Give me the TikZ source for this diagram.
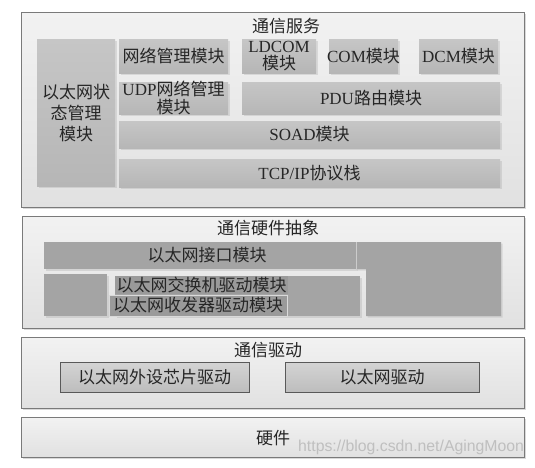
\documentclass[tikz,border=0pt]{standalone}
\usepackage{fontspec}
\setmainfont{Noto Sans CJK SC}
\newfontfamily\lat{Liberation Serif}
\newfontfamily\wmfont{Liberation Sans}
\usetikzlibrary{shadows}

\definecolor{paneltop}{HTML}{F2F2F2}
\definecolor{panelbot}{HTML}{E1E1E1}
\definecolor{panelline}{HTML}{7A7A7A}
\definecolor{modtop}{HTML}{C6C6C6}
\definecolor{modbot}{HTML}{B6B6B6}
\definecolor{hwabfill}{HTML}{A4A4A4}
\definecolor{hwabtext}{HTML}{9A9A9A}
\definecolor{drvtop}{HTML}{D4D4D4}
\definecolor{drvbot}{HTML}{BDBDBD}

\begin{document}
\begin{tikzpicture}[x=1pt, y=-1pt,
    every node/.style={font=\fontsize{17}{17.5}\selectfont, inner sep=0pt, align=center, text=black!85},
    panel/.style={draw=panelline, line width=0.8pt, top color=paneltop, bottom color=panelbot,
        drop shadow={shadow xshift=1.5pt, shadow yshift=-1.5pt, opacity=0.25, fill=black!60}},
    modbox/.style={top color=modtop, bottom color=modbot,
        drop shadow={shadow xshift=1.5pt, shadow yshift=-1.5pt, opacity=0.2, fill=black!50}},
    hwabbox/.style={fill=hwabfill,
        drop shadow={shadow xshift=1.5pt, shadow yshift=-1.5pt, opacity=0.2, fill=black!50}},
    drvbox/.style={draw=black!65, line width=0.8pt, top color=drvtop, bottom color=drvbot}]

    \useasboundingbox (0,0) rectangle (535,467);

    \path[panel] (21,12) rectangle (524,207);
    \node (svc) at (286,26) {通信服务};

    \path[modbox] (37,39) rectangle (115,186);
    \path[modbox] (119,39) rectangle (228,73);
    \path[modbox] (119,82) rectangle (228,114);
    \path[modbox] (242,39) rectangle (316,73);
    \path[modbox] (329,39) rectangle (398,73);
    \path[modbox] (419,39) rectangle (498,73);
    \path[modbox] (242,82) rectangle (500,114);
    \path[modbox] (119,121) rectangle (500,148);
    \path[modbox] (119,159) rectangle (500,187);

    \node[font=\fontsize{17}{21}\selectfont] (ethsm) at (76,113) {以太网状\\态管理\\模块};
    \node (netmgr) at (173.5,56) {网络管理模块};
    \node (udpmgr) at (173.5,98) {{\lat UDP}网络管理\\模块};
    \node (ldcom) at (279,56) {{\lat LDCOM}\\模块};
    \node (com) at (363.5,56) {{\lat COM}模块};
    \node (dcm) at (458.5,56) {{\lat DCM}模块};
    \node (pdur) at (371,98) {{\lat PDU}路由模块};
    \node (soad) at (309.5,134.5) {{\lat SOAD}模块};
    \node (tcpip) at (309.5,173) {{\lat TCP/IP}协议栈};

    \path[panel] (22,216) rectangle (524,328);
    \node (hwab) at (268,228) {通信硬件抽象};

    \path[hwabbox] (44,242) rectangle (356,269);
    \path[hwabbox] (356,242) -- (501,242) -- (501,316) -- (366,316) -- (366,269) -- (356,269) -- cycle;
    \draw[white!80!black, line width=0.6pt] (356,242) -- (356,269);
    \path[hwabbox] (44,274) rectangle (107,316);
    \path[hwabbox] (115,276) rectangle (360,316);
    \node (ethif) at (207,255.5) {以太网接口模块};
    \node[fill=hwabtext, minimum width=173pt, minimum height=18pt] (swdrv) at (201.5,285) {以太网交换机驱动模块};
    \node[fill=hwabtext, draw=paneltop!90!black, line width=1pt, minimum width=178pt, minimum height=21pt] (trxdrv) at (198,305.5) {以太网收发器驱动模块};

    \path[panel] (21,337) rectangle (524,408);
    \node (drv) at (268,350) {通信驱动};
    \path[drvbox] (60,362) rectangle (249,392);
    \path[drvbox] (285,362) rectangle (479,392);
    \node (ephy) at (154.5,377) {以太网外设芯片驱动};
    \node (ethdrv) at (382,377) {以太网驱动};

    \path[panel] (21,417) rectangle (524,457);
    \node (hw) at (273,438) {硬件};
    \node[anchor=west, font=\wmfont\fontsize{15.8}{17}\selectfont, text=black!25] (wm) at (298,447) {https://blog.csdn.net/AgingMoon};
\end{tikzpicture}
\end{document}
